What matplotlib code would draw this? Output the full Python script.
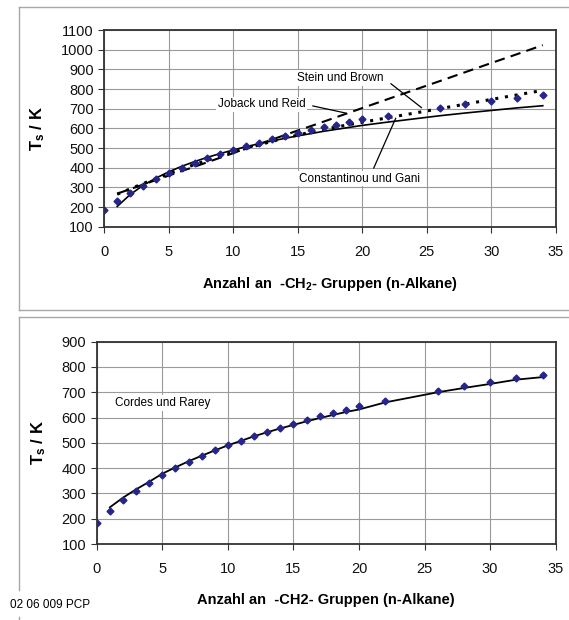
import matplotlib
matplotlib.use("Agg")
import matplotlib.pyplot as plt
from matplotlib.lines import Line2D

plt.rcParams['font.family'] = ['Liberation Sans', 'DejaVu Sans']
plt.rcParams['mathtext.fontset'] = 'custom'
plt.rcParams['mathtext.rm'] = 'Liberation Sans'
plt.rcParams['mathtext.bf'] = 'Liberation Sans:bold'

# ---- data ----
n_ch2 = [0, 1, 2, 3, 4, 5, 6, 7, 8, 9, 10, 11, 12, 13, 14, 15, 16, 17, 18, 19, 20, 22, 26, 28, 30, 32, 34]
ts_exp = [185, 231, 273, 309, 342, 372, 399, 424, 448, 470, 490, 509, 527, 544, 560, 576, 591, 605, 618, 631, 647, 664, 705, 723, 740, 756, 770]

n_model = [1, 2, 3, 4, 5, 6, 7, 8, 9, 10, 11, 12, 13, 14, 15, 16, 17, 18, 19, 20, 22, 26, 28, 30, 32, 34]
ts_joback = [268, 291, 314, 337, 360, 383, 405, 428, 451, 474, 497, 520, 543, 566, 589, 611, 634, 657, 680, 703, 749, 840, 886, 932, 977, 1023]
ts_stein = [265, 292, 319, 344, 369, 393, 416, 438, 459, 479, 498, 516, 534, 550, 566, 580, 594, 607, 619, 631, 654, 700, 723, 747, 770, 793]
ts_cg = [203, 263, 310, 347, 379, 407, 431, 453, 472, 490, 507, 522, 536, 549, 562, 573, 585, 595, 605, 615, 632, 664, 678, 691, 704, 715]
ts_cordes = [245, 283, 316, 346, 378, 403, 427, 449, 470, 490, 508, 526, 542, 557, 571, 585, 598, 610, 622, 632, 660, 700, 717, 733, 750, 760]

x_ticks = [0, 5, 10, 15, 20, 25, 30, 35]
y_ticks_top = [100, 200, 300, 400, 500, 600, 700, 800, 900, 1000, 1100]
y_ticks_bot = [100, 200, 300, 400, 500, 600, 700, 800, 900]

W, H = 569, 620
fig = plt.figure(figsize=(W / 100, H / 100), dpi=100)

def fx(px):
    return px / W

def fy(py):
    return 1 - py / H

marker_color = '#25258a'
grid_color = '#9a9a9a'
tick_fs = 10.5
label_fs = 10.5

def style_axes(ax, yticks, ymin, ymax):
    ax.set_xlim(0, 35)
    ax.set_ylim(ymin, ymax)
    ax.set_xticks(x_ticks)
    ax.set_yticks(yticks)
    ax.grid(True, color=grid_color, linewidth=0.8)
    ax.set_axisbelow(True)
    for s in ax.spines.values():
        s.set_color('#333333')
        s.set_linewidth(1.3)
    ax.tick_params(axis='both', labelsize=tick_fs, colors='#333333', length=4, width=0.8,
                   labelcolor='#111111')
    ax.tick_params(axis='x', pad=9)

# ---- top panel ----
ax1 = fig.add_axes([fx(104.3), fy(226.7), fx(555.7 - 104.3), (226.7 - 30) / H])
style_axes(ax1, y_ticks_top, 100, 1100)
ax1.plot(n_model, ts_joback, color='black', linewidth=1.5, linestyle=(0, (5, 3)))
ax1.plot(n_model, ts_stein, color='black', linewidth=2.2, linestyle=(0, (1, 2.2)))
ax1.plot(n_model, ts_cg, color='black', linewidth=1.2, linestyle='-')
ax1.plot(n_ch2, ts_exp, linestyle='none', marker='D', markersize=3.5, color=marker_color)

bbox = dict(boxstyle='square,pad=0.15', facecolor='white', edgecolor='none')
ann_fs = 8.5
ax1.annotate('Stein und Brown', xy=(24.6, 705), xytext=(18.3, 856), fontsize=ann_fs,
             ha='center', va='center', bbox=bbox,
             arrowprops=dict(arrowstyle='-', color='black', linewidth=0.9, shrinkA=5, shrinkB=0,
                             relpos=(1.0, 0.5)))
ax1.annotate('Joback und Reid', xy=(18.7, 678), xytext=(12.2, 722), fontsize=ann_fs,
             ha='center', va='center', bbox=bbox,
             arrowprops=dict(arrowstyle='-', color='black', linewidth=0.9, shrinkA=4, shrinkB=0,
                             relpos=(1.0, 0.5)))
ax1.annotate('Constantinou und Gani', xy=(22.6, 652), xytext=(19.8, 345), fontsize=ann_fs,
             ha='center', va='center', bbox=bbox,
             arrowprops=dict(arrowstyle='-', color='black', linewidth=0.9, shrinkA=2, shrinkB=0,
                             relpos=(0.6, 1.0)))
ax1.set_xlabel(r'Anzahl an  -CH$\mathbf{_2}$- Gruppen (n-Alkane)', fontsize=label_fs,
               fontweight='bold', labelpad=12)
ax1.set_ylabel(r'T$\mathbf{_s}$ / K', fontsize=label_fs + 1.5, fontweight='bold', labelpad=10)

# ---- bottom panel ----
ax2 = fig.add_axes([fx(96.7), fy(544), fx(555.7 - 96.7), (544 - 341.7) / H])
style_axes(ax2, y_ticks_bot, 100, 900)
ax2.plot(n_model, ts_cordes, color='black', linewidth=1.3, linestyle='-')
ax2.plot(n_ch2, ts_exp, linestyle='none', marker='D', markersize=3.5, color=marker_color)
ax2.text(1.4, 657, 'Cordes und Rarey', fontsize=ann_fs, ha='left', va='center', bbox=bbox)
ax2.set_xlabel('Anzahl an  -CH2- Gruppen (n-Alkane)', fontsize=label_fs,
               fontweight='bold', labelpad=12)
ax2.set_ylabel(r'T$\mathbf{_s}$ / K', fontsize=label_fs + 1.5, fontweight='bold', labelpad=10)

# ---- frames ----
fc = '#a8a8a8'
def fline(x0, y0, x1, y1):
    fig.add_artist(Line2D([fx(x0), fx(x1)], [fy(y0), fy(y1)], color=fc, linewidth=1.0,
                          transform=fig.transFigure))

fline(19, 7, 575, 7)
fline(19, 7, 19, 310)
fline(19, 310, 575, 310)
fline(19, 317, 575, 317)
fline(19, 317, 19, 590)
fline(19, 617, 19, 625)

fig.text(fx(10), fy(605), '02 06 009 PCP', fontsize=8.5, ha='left', va='center')

fig.savefig('out.png', dpi=100)
